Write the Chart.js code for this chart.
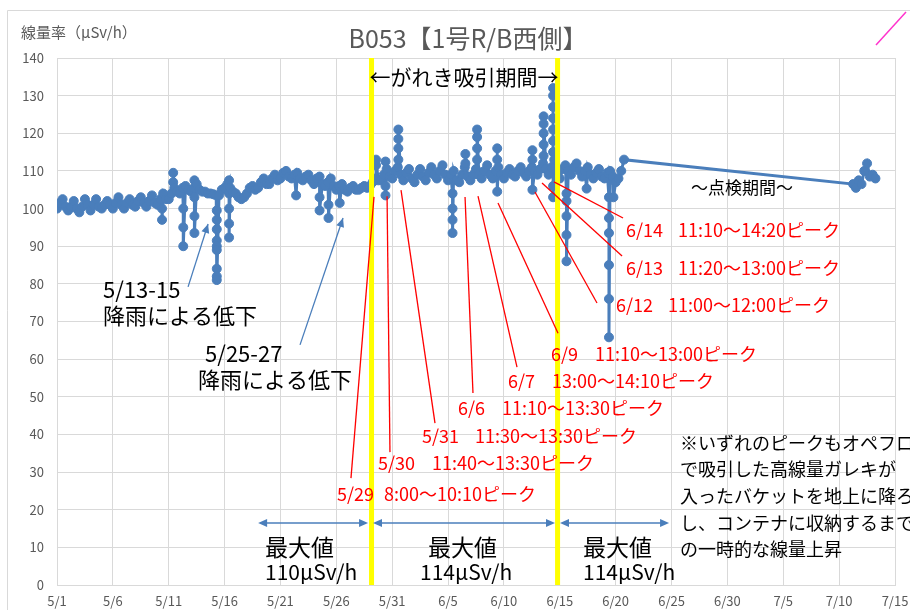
<!DOCTYPE html>
<html>
<head>
<meta charset="utf-8">
<script src="https://cdn.jsdelivr.net/npm/chart.js@4.4.1/dist/chart.umd.min.js"></script>
<style>
  html, body { margin: 0; padding: 0; background: #fff; }
  #chart { display: block; }
</style>
</head>
<body>
<canvas id="chart" width="910" height="610"></canvas>
<script>
const tickLabels = ["5/1", "5/6", "5/11", "5/16", "5/21", "5/26", "5/31", "6/5",
  "6/10", "6/15", "6/20", "6/25", "6/30", "7/5", "7/10", "7/15"];

// dose rate (μSv/h), one reading every 6 hours; x = days since 5/1
const may01 = [
  100, 101.5, 102.5, 100.5, 99.5, 100.5, 102, 100, 99, 100.5, 102.5, 101,
  99.5, 101, 102.5, 100.5, 100, 101, 102, 101, 100, 101.5, 103, 101,
  100, 101.5, 102.5, 101, 100.5, 102, 103, 101.5, 100.5, 102, 103.5, 101.5,
  101, 102.5, 104, 102.5
];
const may11 = [
  102.5, 104, 105.5, 104.5, 104, 105.5, 106, 105, 104.5, 105.5, 106.5, 105,
  104.5, 104.5, 104, 104, 103.8, 103.5, 103.5, 105, 105.5, 106.5, 105.5, 104.5,
  104, 103, 102.5, 103, 104, 105.5, 106, 105, 105.5, 107, 108, 106.5,
  106.5, 108, 109, 107.5
];
const may21 = [
  108, 109.5, 110, 108.5, 108, 109, 109.5, 108, 107.5, 108.5, 109, 107.5,
  106.5, 108, 108.5, 106.5, 106, 107, 108, 106, 105, 106, 106.5, 105,
  104.5, 105.5, 106, 105, 105, 105.5, 106, 105.5, 106, 107, 108, 107.5,
  107.5, 109, 110.5, 108.5
];
const may31 = [
  108, 110, 111, 109, 107.5, 109.5, 110.5, 108, 107, 109, 110.5, 108.5,
  107.5, 109.5, 111, 109, 108, 110, 111.5, 109, 107.5, 109, 110, 107.5,
  107, 109, 111, 108.5, 107.5, 109, 110.5, 109, 108, 110, 111.5, 109,
  108, 110, 111, 109
];
const jun10 = [
  108, 109.5, 110.5, 109, 108.5, 110, 111, 109.5, 108.5, 110, 111, 110,
  109, 110.5, 112, 110.5, 109, 111, 113, 110, 108, 110.5, 111.5, 110,
  109, 111, 112, 110, 108.5, 110, 111, 109, 108, 109.5, 110.5, 108.5,
  108, 109.5, 110, 108.5, 107, 108, 110, 113
];
const jul12 = [106.5, 105.5, 107.5, 106.5, 110, 112, 108.5, 109, 108];

// short rises / drops inside one hour: [day, readings]
const jumps = [
  [9.4, [100, 97]],
  [10.4, [107, 109.5]],
  [11.3, [100, 95, 90]],
  [12.3, [107.5, 103, 98, 93.5]],
  [14.3, [99.5, 97, 94.5, 91.5, 90, 89, 84, 82, 81]],
  [15.4, [107.5, 104, 100, 96, 92.3]],
  [21.4, [103.5]],
  [23.5, [103, 99.5]],
  [24.3, [101, 97.5]],
  [25.3, [101.5]],
  [28.55, [111.5, 113]],
  [29.4, [112.5, 106, 103.5]],
  [30.55, [113, 116, 118.5, 121]],
  [35.4, [104, 100, 97, 93.5]],
  [36.55, [112, 114.5]],
  [37.6, [113, 116, 119, 121]],
  [39.4, [113, 116, 104.5]],
  [42.55, [113, 115.5, 105]],
  [43.55, [114, 117, 120, 122.5, 124.5]],
  [44.4, [115, 118, 121, 124, 127, 130, 132, 106, 103]],
  [45.6, [104, 102, 98, 93, 86]],
  [47.4, [105.3]],
  [49.4, [103, 97.5, 93.5, 85, 76, 65.8]],
  [49.8, [103]]
];

const series = [];
[[0, may01], [10, may11], [20, may21], [30, may31], [40, jun10], [71.25, jul12]].forEach(([start, arr]) => {
  arr.forEach((v, i) => series.push({ x: start + i * 0.25, y: v }));
});
jumps.forEach(([day, vals]) => vals.forEach(v => series.push({ x: day, y: v })));
series.sort((a, b) => a.x - b.x);

// annotations, placed in chart units (day, μSv/h)
const suctionStart = 28.15;
const suctionEnd = 44.8;
const peakNotes = [
  // date, time, date x, time x, label y, line from (x, y) to (x, y)
  ["5/29", "8:00～10:10ピーク", 25.06, 29.27, 24.2, 28.37, 103.1, 26.31, 28.4],
  ["5/30", "11:40～13:30ピーク", 28.73, 33.56, 32.4, 29.54, 103.3, 29.8, 35.3],
  ["5/31", "11:30～13:30ピーク", 32.67, 37.41, 39.6, 30.79, 104.9, 33.83, 43.0],
  ["6/6", "11:10～13:30ピーク", 35.89, 39.83, 47.0, 36.52, 103.1, 37.23, 51.0],
  ["6/7", "13:00～14:10ピーク", 40.36, 44.3, 54.2, 37.68, 103.3, 41.17, 57.9],
  ["6/9", "11:10～13:00ピーク", 44.21, 48.15, 61.4, 39.47, 101.5, 44.84, 66.9],
  ["6/12", "11:00～12:00ピーク", 50.03, 54.69, 74.4, 42.78, 104.4, 48.33, 74.9],
  ["6/13", "11:20～13:00ピーク", 50.93, 55.58, 84.2, 43.41, 106.8, 50.57, 87.4],
  ["6/14", "11:10～14:20ピーク", 50.93, 55.58, 94.3, 44.48, 107.1, 50.66, 97.5]
];
const maxSpans = [
  [18.0, 27.84, "110μSv/h", 18.62, 18.62],
  [28.28, 44.57, "114μSv/h", 33.2, 32.49],
  [45.02, 54.78, "114μSv/h", 47.08, 47.08]
];
const noteLines = [
  "※いずれのピークもオペフロア",
  "で吸引した高線量ガレキが",
  "入ったバケットを地上に降ろ",
  "し、コンテナに収納するまで",
  "の一時的な線量上昇"
];

const FONT = '"Noto Sans CJK JP", "Noto Sans", sans-serif';
const BLUE = "#4a7ebb";

function arrowHead(ctx, fx, fy, tx, ty) {
  const a = Math.atan2(ty - fy, tx - fx);
  ctx.beginPath();
  ctx.moveTo(tx, ty);
  ctx.lineTo(tx - 9 * Math.cos(a) + 4 * Math.sin(a), ty - 9 * Math.sin(a) - 4 * Math.cos(a));
  ctx.lineTo(tx - 9 * Math.cos(a) - 4 * Math.sin(a), ty - 9 * Math.sin(a) + 4 * Math.cos(a));
  ctx.closePath();
  ctx.fill();
}

const annotate = {
  id: "annotate",
  afterDatasetsDraw(chart) {
    const { ctx, chartArea, scales: { x, y } } = chart;
    const X = d => x.getPixelForValue(d);
    const Y = v => y.getPixelForValue(v);
    ctx.save();

    // suction period lines
    ctx.fillStyle = "#ffff00";
    [suctionStart, suctionEnd].forEach(d => ctx.fillRect(X(d) - 2.5, chartArea.top, 5, chartArea.bottom - chartArea.top));

    ctx.textBaseline = "middle";
    ctx.fillStyle = "#000";
    ctx.textAlign = "center";
    ctx.font = "21px " + FONT;
    ctx.fillText("←がれき吸引期間→", X(36.43), Y(135));
    ctx.font = "17px " + FONT;
    ctx.fillText("～点検期間～", X(61.3), Y(105.7));

    // peak notes
    ctx.strokeStyle = "#ff0000";
    ctx.fillStyle = "#ff0000";
    ctx.lineWidth = 1.3;
    ctx.textAlign = "left";
    ctx.font = "18px " + FONT;
    peakNotes.forEach(([date, time, dx, tx, ly, x1, y1, x2, y2]) => {
      ctx.beginPath();
      ctx.moveTo(X(x1), Y(y1));
      ctx.lineTo(X(x2), Y(y2));
      ctx.stroke();
      ctx.fillText(date, X(dx), Y(ly));
      ctx.fillText(time, X(tx), Y(ly));
    });

    // rain arrows
    ctx.strokeStyle = BLUE;
    ctx.fillStyle = BLUE;
    ctx.lineWidth = 1.3;
    [[11.73, 79.2, 13.52, 95.9], [21.75, 63.8, 25.6, 97.5]].forEach(([x1, y1, x2, y2]) => {
      ctx.beginPath();
      ctx.moveTo(X(x1), Y(y1));
      ctx.lineTo(X(x2), Y(y2));
      ctx.stroke();
      arrowHead(ctx, X(x1), Y(y1), X(x2), Y(y2));
    });

    // maximum value spans
    ctx.lineWidth = 1.5;
    maxSpans.forEach(([d1, d2, label, hx, vx]) => {
      const yy = Y(16.5);
      ctx.strokeStyle = BLUE;
      ctx.fillStyle = BLUE;
      ctx.beginPath();
      ctx.moveTo(X(d1) + 4, yy);
      ctx.lineTo(X(d2) - 4, yy);
      ctx.stroke();
      arrowHead(ctx, X(d2), yy, X(d1), yy);
      arrowHead(ctx, X(d1), yy, X(d2), yy);
      ctx.fillStyle = "#000";
      ctx.font = "23px " + FONT;
      ctx.fillText("最大値", X(hx), Y(9.9));
      ctx.font = "21px " + FONT;
      ctx.fillText(label, X(vx), Y(3.5));
    });

    ctx.fillStyle = "#000";
    ctx.font = "22px " + FONT;
    ctx.fillText("5/13-15", X(4.12), Y(78.4));
    ctx.fillText("降雨による低下", X(4.12), Y(71.5));
    ctx.fillText("5/25-27", X(13.25), Y(61.4));
    ctx.fillText("降雨による低下", X(12.62), Y(54.5));

    ctx.font = "18px " + FONT;
    noteLines.forEach((t, i) => ctx.fillText(t, X(55.76), Y(37.7 - i * 7.05)));
    ctx.restore();
  },
  afterDraw(chart) {
    const { ctx } = chart;
    ctx.save();
    ctx.strokeStyle = "#d9d9d9";
    ctx.lineWidth = 1;
    ctx.beginPath();
    ctx.moveTo(7.5, 610);
    ctx.lineTo(7.5, 10.5);
    ctx.lineTo(910, 10.5);
    ctx.stroke();
    ctx.strokeStyle = "#ff33cc";
    ctx.lineWidth = 1.5;
    ctx.beginPath();
    ctx.moveTo(876, 45);
    ctx.lineTo(906, 12);
    ctx.stroke();
    ctx.fillStyle = "#595959";
    ctx.textBaseline = "middle";
    ctx.textAlign = "center";
    ctx.font = "25px " + FONT;
    ctx.fillText("B053【1号R/B西側】", 468, 38);
    ctx.textAlign = "left";
    ctx.font = "15px " + FONT;
    ctx.fillText("線量率（μSv/h）", 21, 32);
    ctx.restore();
  }
};

Chart.defaults.font.family = FONT;

new Chart(document.getElementById("chart"), {
  type: "scatter",
  data: {
    datasets: [
      {
        data: series,
        showLine: true,
        borderColor: BLUE,
        borderWidth: 3,
        pointRadius: 4.5,
        pointBackgroundColor: BLUE,
        pointBorderColor: BLUE,
        pointBorderWidth: 1,
        tension: 0
      }
    ]
  },
  options: {
    responsive: false,
    devicePixelRatio: 1,
    animation: false,
    layout: { padding: { top: 58, right: 15, left: 0, bottom: 0 } },
    plugins: {
      legend: { display: false },
      tooltip: { enabled: false }
    },
    scales: {
      x: {
        type: "linear",
        min: 0,
        max: 75,
        afterFit: s => {
          s.height = 25;
          s.paddingLeft = 0;
          s.paddingRight = 0;
        },
        ticks: {
          stepSize: 5,
          autoSkip: false,
          maxRotation: 0,
          padding: 8,
          color: "#595959",
          font: { size: 13 },
          callback: (v, i) => tickLabels[i]
        },
        grid: { color: "#d9d9d9", drawTicks: false },
        border: { color: "#d9d9d9" }
      },
      y: {
        min: 0,
        max: 140,
        afterFit: s => { s.width = 57; },
        ticks: { stepSize: 10, padding: 13, color: "#595959", font: { size: 13 } },
        grid: { color: "#d9d9d9", drawTicks: false },
        border: { display: false }
      }
    }
  },
  plugins: [annotate]
});
</script>
</body>
</html>
